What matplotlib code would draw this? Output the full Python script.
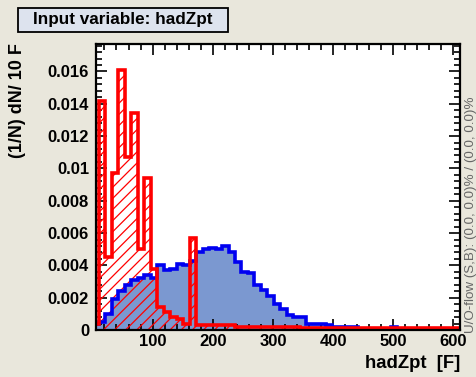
import matplotlib
matplotlib.use('Agg')

import matplotlib.pyplot as plt
import numpy as np
from matplotlib.ticker import MultipleLocator, FuncFormatter
from matplotlib.patches import Rectangle

# bin layout (first bin partly outside the frame)
first_edge = -0.6
bin_width = 10.8
x_min, x_max = 6, 611

# signal (blue, filled)
signal = [0.0004, 0.0005, 0.0010, 0.0019, 0.0024, 0.0028, 0.0031, 0.0032, 0.0034, 0.0032,
          0.0040, 0.0037, 0.0038, 0.0041, 0.0040, 0.0043, 0.0048, 0.0050, 0.0051, 0.0050,
          0.0052, 0.0048, 0.0042, 0.0036, 0.0035, 0.0028, 0.0025, 0.0021, 0.0016, 0.0013,
          0.0009, 0.0008, 0.0008, 0.0004, 0.00035, 0.0004, 0.0003, 0.0002, 0.0002, 0.0002,
          0.0002, 0.00005, 0.00005, 0.00005, 0.00005, 0.00005, 0.0002, 0.00005, 0.0, 0.0,
          0.0, 0.0, 0.0, 0.0, 0.0, 0.0, 0.0]

# background (red, hatched)
background = [0.0004, 0.0142, 0.0045, 0.0097, 0.0161, 0.0107, 0.0134, 0.0050, 0.0094, 0.0038,
              0.0014, 0.0011, 0.0008, 0.0007, 0.0004, 0.0057, 0.0003, 0.0003, 0.0003, 0.0003,
              0.0003, 0.0003, 0.0002, 0.0002, 0.0002, 0.0002, 0.0002, 0.0002, 0.0002, 0.0002,
              0.0002, 0.0002, 0.0001, 0.0001, 0.0001, 0.0001, 0.0001, 0.0001, 0.0001, 0.0001,
              0.0001, 0.0001, 0.0001, 0.0001, 0.0001, 0.0001, 0.0001, 0.0001, 0.0001, 0.0001,
              0.0001, 0.0001, 0.0001, 0.0001, 0.0001, 0.0001, 0.0001]

y_ticks = [0, 0.002, 0.004, 0.006, 0.008, 0.01, 0.012, 0.014, 0.016]
x_ticks = [100, 200, 300, 400, 500, 600]

edges = first_edge + bin_width * np.arange(len(signal) + 1)

plt.rcParams['font.family'] = ['Liberation Sans', 'DejaVu Sans']
plt.rcParams['hatch.linewidth'] = 0.9

fig = plt.figure(figsize=(4.77, 3.77), dpi=100, facecolor='#e9e7dc')
ax = fig.add_axes([0.2013, 0.1247, 0.7631, 0.7586])
ax.set_facecolor('white')

# blue signal fill, red hatched background, then outlines
ax.stairs(signal, edges, fill=True, facecolor='#7b98d0', edgecolor='none', zorder=1)
ax.stairs(background, edges, fill=True, facecolor='none', edgecolor='red',
          hatch='///', linewidth=0, zorder=2)
ax.stairs(signal, edges, color='#0000f0', linewidth=2.6, zorder=3)
ax.stairs(background, edges, color='#ff0000', linewidth=2.6, zorder=4)

ax.set_xlim(x_min, x_max)
ax.set_ylim(0, 0.0177)

ax.set_xticks(x_ticks)
ax.xaxis.set_minor_locator(MultipleLocator(20))
ax.set_yticks(y_ticks)
ax.yaxis.set_minor_locator(MultipleLocator(0.0004))
ax.yaxis.set_major_formatter(FuncFormatter(lambda v, p: '%g' % v))

ax.tick_params(which='both', direction='in', top=True, right=True, width=1.2,
               labelsize=12)
ax.tick_params(axis='y', pad=5)
ax.tick_params(axis='x', pad=3)
ax.tick_params(which='major', length=8)
ax.tick_params(which='minor', length=4)
for lab in ax.get_xticklabels() + ax.get_yticklabels():
    lab.set_fontweight('bold')

for sp in ax.spines.values():
    sp.set_linewidth(1.6)
    sp.set_zorder(5)

fig.text(0.037, 0.886, '(1/N) dN/ 10 F', rotation=90, ha='center', va='top',
         fontsize=13, fontweight='bold')
fig.text(0.964, 0.037, 'hadZpt  [F]', ha='right', va='center',
         fontsize=13.3, fontweight='bold')
fig.text(0.987, 0.118, 'U/O-flow (S,B): (0.0, 0.0)% / (0.0, 0.0)%', rotation=90,
         ha='center', va='bottom', fontsize=9.6, color='#666666')

# title box
fig.patches.append(Rectangle((0.0377, 0.9151), 0.4403, 0.0637, transform=fig.transFigure,
                             facecolor='#dde3ee', edgecolor='black', linewidth=1.3))
fig.text(0.258, 0.947, 'Input variable: hadZpt', ha='center', va='center',
         fontsize=12.3, fontweight='bold')

plt.savefig('out.png', dpi=100, facecolor=fig.get_facecolor())
plt.close(fig)
